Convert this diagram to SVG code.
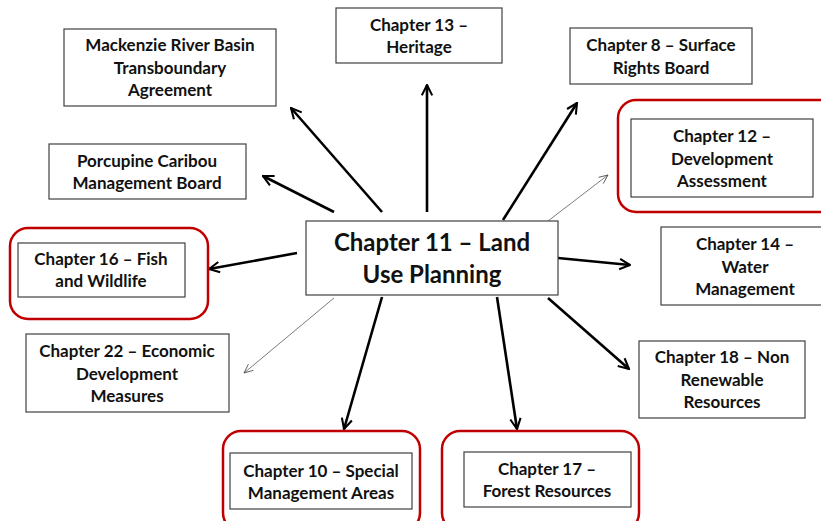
<svg xmlns="http://www.w3.org/2000/svg" width="821" height="521" viewBox="0 0 821 521">
<style>
.bx{fill:#fff;stroke:#404040;stroke-width:1.2}
.rd{fill:none;stroke:#c00000;stroke-width:2.5}
text{font-family:Lato,"Open Sans","Liberation Sans",sans-serif;font-weight:bold;font-size:17px;fill:#111;text-anchor:middle}
.big{font-size:24px}
.thick{stroke:#000;stroke-width:2.6;fill:none;marker-end:url(#ah)}
.thin{stroke:#444;stroke-width:0.7;fill:none;marker-end:url(#at)}
</style>
<defs>
<marker id="ah" viewBox="0 0 10 10" refX="9" refY="5" markerWidth="5" markerHeight="5" orient="auto" markerUnits="strokeWidth">
<path d="M1,1 L9,5 L1,9" fill="none" stroke="#000" stroke-width="1.6" stroke-linejoin="miter"/>
</marker>
<marker id="at" viewBox="0 0 10 10" refX="9" refY="5" markerWidth="16" markerHeight="16" orient="auto" markerUnits="strokeWidth">
<path d="M1,1.5 L9,5 L1,8.5" fill="none" stroke="#444" stroke-width="0.7"/>
</marker>
</defs>
<rect width="821" height="521" fill="#fff"/>
<g id="connectors">
<line class="thick" x1="382" y1="212" x2="291" y2="108"/>
<line class="thick" x1="334" y1="212" x2="263" y2="176"/>
<line class="thick" x1="427" y1="212" x2="427" y2="85"/>
<line class="thick" x1="503" y1="220" x2="577" y2="103"/>
<line class="thin" x1="548" y1="221" x2="608" y2="175"/>
<line class="thick" x1="297" y1="253" x2="209" y2="269"/>
<line class="thin" x1="334" y1="298" x2="244" y2="373"/>
<line class="thick" x1="382" y1="297" x2="344" y2="429"/>
<line class="thick" x1="558" y1="258" x2="630" y2="265"/>
<line class="thick" x1="548" y1="298" x2="629" y2="369"/>
<line class="thick" x1="497" y1="297" x2="517" y2="429"/>
</g>
<g id="ch11">
<rect class="bx" x="306" y="221" width="252" height="74"/>
<text class="big" x="432" y="251">Chapter 11 – Land</text>
<text class="big" x="432" y="283">Use Planning</text>
</g>
<g id="mackenzie">
<rect class="bx" x="64" y="29" width="212" height="77"/>
<text x="170" y="51">Mackenzie River Basin</text>
<text x="170" y="74">Transboundary</text>
<text x="170" y="96">Agreement</text>
</g>
<g id="porcupine">
<rect class="bx" x="49" y="144" width="197" height="55"/>
<text x="147" y="167">Porcupine Caribou</text>
<text x="147" y="189">Management Board</text>
</g>
<g id="ch13">
<rect class="bx" x="336" y="8" width="166" height="55"/>
<text x="419" y="31">Chapter 13 –</text>
<text x="419" y="53">Heritage</text>
</g>
<g id="ch8">
<rect class="bx" x="570" y="28" width="182" height="56"/>
<text x="661" y="51">Chapter 8 – Surface</text>
<text x="661" y="74">Rights Board</text>
</g>
<g id="ch12">
<rect class="rd" x="618" y="100" width="220" height="112" rx="18"/>
<rect class="bx" x="631" y="119" width="182" height="78"/>
<text x="722" y="142">Chapter 12 –</text>
<text x="722" y="165">Development</text>
<text x="722" y="187">Assessment</text>
</g>
<g id="ch14">
<rect class="bx" x="661" y="227" width="170" height="78"/>
<text x="745" y="250">Chapter 14 –</text>
<text x="745" y="273">Water</text>
<text x="745" y="295">Management</text>
</g>
<g id="ch16">
<rect class="rd" x="10" y="228" width="198" height="91" rx="18"/>
<rect class="bx" x="18" y="243" width="167" height="54"/>
<text x="101" y="265">Chapter 16 – Fish</text>
<text x="101" y="287">and Wildlife</text>
</g>
<g id="ch22">
<rect class="bx" x="26" y="334" width="203" height="78"/>
<text x="127" y="357">Chapter 22 – Economic</text>
<text x="127" y="380">Development</text>
<text x="127" y="402">Measures</text>
</g>
<g id="ch18">
<rect class="bx" x="639" y="341" width="166" height="77"/>
<text x="722" y="363">Chapter 18 – Non</text>
<text x="722" y="386">Renewable</text>
<text x="722" y="408">Resources</text>
</g>
<g id="ch10">
<rect class="rd" x="223" y="431" width="197" height="100" rx="18"/>
<rect class="bx" x="230" y="453" width="182" height="56"/>
<text x="321" y="477">Chapter 10 – Special</text>
<text x="321" y="499">Management Areas</text>
</g>
<g id="ch17">
<rect class="rd" x="442" y="431" width="197" height="100" rx="18"/>
<rect class="bx" x="464" y="452" width="167" height="55"/>
<text x="547" y="475">Chapter 17 –</text>
<text x="547" y="497">Forest Resources</text>
</g>
</svg>
